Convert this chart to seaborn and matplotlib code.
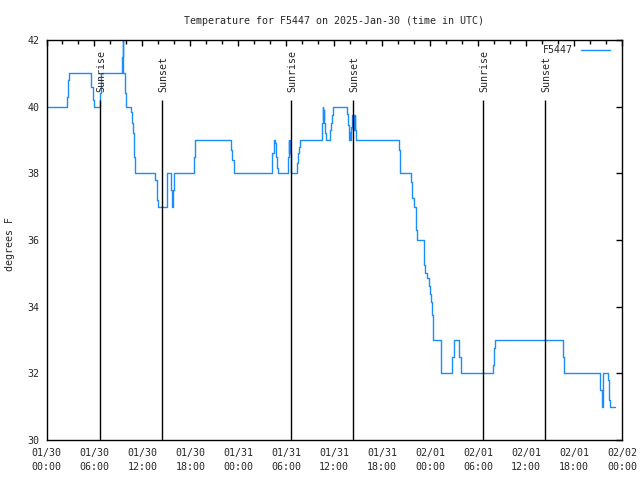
import numpy as np
import pandas as pd
import matplotlib
matplotlib.use("Agg")
import matplotlib.pyplot as plt
import seaborn as sns

# Hours since 2025-01-30 00:00 UTC and temperature (deg F), step readings
hours = [0.0, 2.60, 2.72, 2.85, 5.56, 5.77, 5.98, 6.69, 6.85,
         9.47, 9.53, 9.60, 9.78, 9.90, 10.60, 10.73, 10.85, 10.98, 11.10,
         13.60, 13.77, 13.85, 13.98, 15.05, 15.53, 15.65, 15.85, 16.00,
         18.47, 18.55, 23.06, 23.20, 23.47,
         28.15, 28.27, 28.44, 28.56, 28.69, 28.85, 28.98,
         30.23, 30.33, 30.40, 30.45, 30.52, 30.56,
         31.33, 31.46, 31.58, 31.71,
         34.48, 34.56, 34.62, 34.68, 34.75, 34.85, 35.00,
         35.52, 35.65, 35.77, 35.90,
         37.60, 37.73, 37.85, 37.92, 38.00,
         38.15, 38.25, 38.33, 38.40, 38.47, 38.55, 38.62, 38.70,
         44.10, 44.28,
         45.65, 45.73, 45.98, 46.19, 46.35,
         47.23, 47.40, 47.65, 47.81, 47.94, 48.06, 48.19, 48.35, 48.40,
         49.32, 49.40, 50.78, 50.94, 51.60, 51.85,
         55.85, 55.97, 56.10, 64.60, 64.72,
         69.19, 69.30, 69.45, 69.55, 69.65, 70.20, 70.33, 70.42, 70.55, 71.15]
temps = [40.0, 40.3, 40.8, 41.0, 40.6, 40.2, 40.0, 40.4, 41.0,
         41.5, 42.0, 41.0, 40.4, 40.0, 39.85, 39.5, 39.2, 38.5, 38.0,
         37.8, 37.5, 37.2, 37.0, 38.0, 37.5, 37.0, 37.5, 38.0,
         38.5, 39.0, 38.7, 38.4, 38.0,
         38.3, 38.6, 39.0, 38.9, 38.5, 38.15, 38.0,
         38.5, 39.0, 38.6, 39.0, 38.6, 38.0,
         38.3, 38.6, 38.8, 39.0,
         39.5, 40.0, 39.6, 39.9, 39.5, 39.2, 39.0,
         39.3, 39.5, 39.75, 40.0,
         39.77, 39.45, 39.0, 39.25, 39.0,
         39.4, 39.75, 39.3, 39.75, 39.3, 39.75, 39.3, 39.0,
         38.7, 38.0,
         37.75, 37.25, 37.0, 36.3, 36.0,
         35.25, 35.0, 34.85, 34.62, 34.38, 34.14, 33.75, 33.25, 33.0,
         32.25, 32.0, 32.5, 33.0, 32.5, 32.0,
         32.25, 32.75, 33.0, 32.5, 32.0,
         31.8, 31.5, 31.15, 31.0, 32.0, 31.8, 31.5, 31.2, 31.0, 31.0]

sunrise = [6.69, 30.6, 54.6]
sunset = [14.44, 38.35, 62.4]
event_top = 40.2

xtick_pos = list(range(0, 73, 6))
xtick_labels = ["01/30\n00:00", "01/30\n06:00", "01/30\n12:00", "01/30\n18:00",
                "01/31\n00:00", "01/31\n06:00", "01/31\n12:00", "01/31\n18:00",
                "02/01\n00:00", "02/01\n06:00", "02/01\n12:00", "02/01\n18:00",
                "02/02\n00:00"]
ytick_pos = [30, 32, 34, 36, 38, 40, 42]

sns.set_style("white")
plt.rcParams['font.family'] = ['DejaVu Sans Mono', 'DejaVu Sans']
FS = 7.2

df = pd.DataFrame({"hour": hours, "temp": temps})

fig = plt.figure(figsize=(6.4, 4.8), dpi=100)
ax = fig.add_axes([46.5 / 640, 40 / 480, (622 - 46.5) / 640, 400 / 480])

sns.lineplot(data=df, x="hour", y="temp", ax=ax, estimator=None, sort=False,
             drawstyle="steps-post", color="#1a8cff", linewidth=1.0,
             label="F5447")

ax.vlines(sunrise + sunset, 30, event_top, color="black", linewidth=1.0)
for h in sunrise:
    ax.text(h + 0.15, event_top + 0.25, "Sunrise", rotation=90, ha="center",
            va="bottom", fontsize=FS)
for h in sunset:
    ax.text(h + 0.15, event_top + 0.25, "Sunset", rotation=90, ha="center",
            va="bottom", fontsize=FS)

ax.set_xlim(0, 72)
ax.set_ylim(30, 42)
ax.set_xticks(xtick_pos)
ax.set_xticklabels(xtick_labels, fontsize=FS, linespacing=1.5)
ax.set_xticks(np.arange(0, 73, 2), minor=True)
ax.set_yticks(ytick_pos)
ax.set_yticklabels([str(v) for v in ytick_pos], fontsize=FS)
ax.tick_params(axis="both", which="both", direction="in", top=True, right=True,
               color="black", width=1.0)
ax.tick_params(axis="x", which="major", length=4.5, pad=6)
ax.tick_params(axis="x", which="minor", length=2.7)
ax.tick_params(axis="y", which="major", length=4.5, pad=5)

for sp in ax.spines.values():
    sp.set_color("black")
    sp.set_linewidth(1.0)

ax.set_xlabel("")
ax.set_ylabel("degrees F", fontsize=FS)
ax.yaxis.set_label_coords(-0.054, 0.49)
ax.set_title("Temperature for F5447 on 2025-Jan-30 (time in UTC)", fontsize=FS, pad=11.5)

ax.legend(loc="upper right", bbox_to_anchor=(0.986, 0.997), frameon=False,
          markerfirst=False, fontsize=FS, handlelength=2.9, handletextpad=0.8,
          borderaxespad=0.0)

fig.savefig("out.png", dpi=100)
